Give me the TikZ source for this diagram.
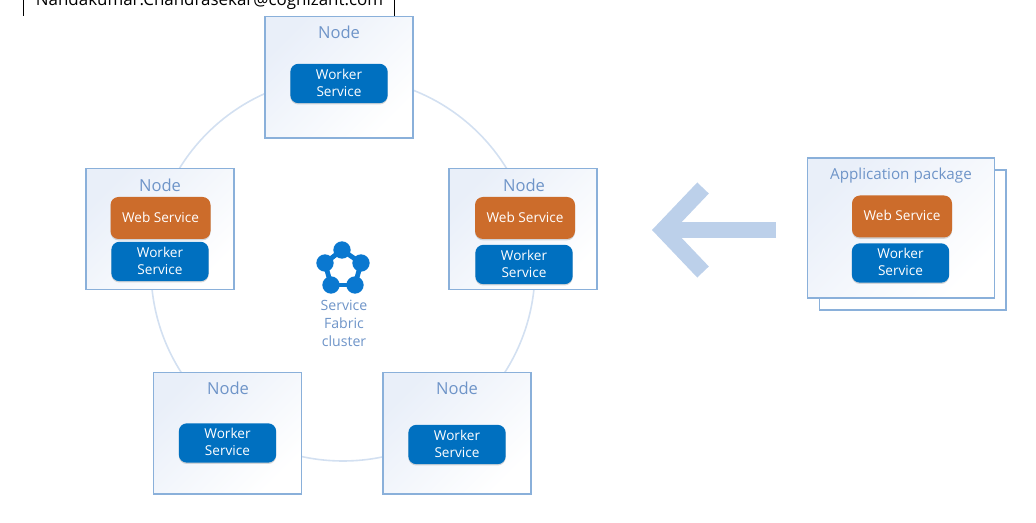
\documentclass[tikz,border=0pt]{standalone}
\usepackage{fontspec}
\setmainfont{Open Sans}
\usepackage{tikz}
\usetikzlibrary{arrows.meta,shadows,positioning}
\definecolor{framecol}{HTML}{8AB0DA}
\definecolor{labelcol}{HTML}{6E94C8}
\definecolor{ringcol}{HTML}{D3E0F1}
\definecolor{workercol}{HTML}{0070C0}
\definecolor{webcol}{HTML}{CC6C2B}
\definecolor{arrowcol}{HTML}{BCD0EA}
\definecolor{iconcol}{HTML}{0A78D0}
\definecolor{shadecol}{HTML}{E9EFF9}
\tikzset{
    frame/.style={draw=framecol, line width=1pt, minimum width=111pt, minimum height=91pt, inner sep=0pt,
        top color=shadecol, bottom color=white, shading angle=45},
    nodelabel/.style={text=labelcol, font=\fontsize{12.4}{14}\selectfont},
    service/.style={rounded corners=6pt, inner sep=0pt, align=center, text=white, text depth=1pt,
        font=\fontsize{10.2}{12.75}\selectfont,
        drop shadow={shadow xshift=0pt, shadow yshift=-1pt, opacity=0.3}},
    worker/.style={service, fill=workercol, minimum width=73pt, minimum height=29.5pt},
    web/.style={service, fill=webcol, minimum width=75pt, minimum height=31.5pt},
    dot/.style={circle, fill=iconcol, minimum size=13pt, inner sep=0pt, outer sep=0pt},
    iconline/.style={iconcol, line width=3.6pt, shorten >=-2pt, shorten <=-2pt}
}
\begin{document}
\begin{tikzpicture}[x=0.75pt, y=-0.75pt]
    \useasboundingbox (0, 0) rectangle (1036, 523);

    % Cut off mail box at the top edge
    \begin{scope}
        \clip (0, 0) rectangle (1036, 523);
        \node[font=\fontsize{12.7}{15}\selectfont, anchor=base] (mail) at (209.5, 6) {Nandakumar.Chandrasekar@cognizant.com};
    \end{scope}
    \coordinate (mailtl) at (23, 0);
    \coordinate (mailbl) at (23, 16);
    \coordinate (mailtr) at (394, 0);
    \coordinate (mailbr) at (394, 16);
    \draw[black, line width=0.75pt] (mailtl) -- (mailbl);
    \draw[black, line width=0.75pt] (mailtr) -- (mailbr);

    % Cluster ring
    \node[circle, draw=ringcol, line width=1.2pt, minimum size=288pt, inner sep=0pt] (ring) at (343, 269) {};

    % Nodes of the cluster
    \node[frame] (topnode) at (339, 77.5) {};
    \node[nodelabel] (toplabel) at (339, 32) {Node};
    \node[worker] (topworker) at (339, 83.5) {Worker\\Service};

    \node[frame] (leftnode) at (160, 229) {};
    \node[nodelabel] (leftlabel) at (160, 185) {Node};
    \node[web] (leftweb) at (160.5, 218) {Web Service};
    \node[worker] (leftworker) at (160, 261.5) {Worker\\Service};

    \node[frame] (rightnode) at (523, 229) {};
    \node[nodelabel] (rightlabel) at (524, 185) {Node};
    \node[web] (rightweb) at (525, 218) {Web Service};
    \node[worker] (rightworker) at (524, 264.5) {Worker\\Service};

    \node[frame] (lownodea) at (227.5, 433.5) {};
    \node[nodelabel] (lowlabela) at (228, 388) {Node};
    \node[worker] (lowworkera) at (227.5, 443) {Worker\\Service};

    \node[frame] (lownodeb) at (457, 433.5) {};
    \node[nodelabel] (lowlabelb) at (457, 388) {Node};
    \node[worker] (lowworkerb) at (457, 444.5) {Worker\\Service};

    % Service Fabric icon
    \node[dot] (icona) at (342, 250) {};
    \node[dot] (iconb) at (361, 263) {};
    \node[dot] (iconc) at (355, 285) {};
    \node[dot] (icond) at (331, 285) {};
    \node[dot] (icone) at (325, 263) {};
    \draw[iconline] (icona) -- (iconb);
    \draw[iconline] (iconb) -- (iconc);
    \draw[iconline] (iconc) -- (icond);
    \draw[iconline] (icond) -- (icone);
    \draw[iconline] (icone) -- (icona);
    \node[nodelabel, align=center, font=\fontsize{10.6}{13.5}\selectfont] (clusterlabel) at (344, 323.5) {Service\\Fabric\\cluster};

    % Application package
    \node[draw=framecol, fill=white, line width=1pt, minimum width=140pt, minimum height=105pt] (pkgback) at (912.5, 240) {};
    \node[frame, minimum width=140pt, minimum height=105pt] (pkg) at (901, 228) {};
    \node[nodelabel, font=\fontsize{11.4}{13}\selectfont] (pkglabel) at (901, 175.5) {Application package};
    \node[web] (pkgweb) at (902, 216.5) {Web Service};
    \node[worker] (pkgworker) at (900.5, 263) {Worker\\Service};

    % Arrow from package to cluster
    \coordinate (arrowtail) at (776, 230);
    \coordinate (arrowtip) at (652, 230);
    \draw[-{Straight Barb[length=30pt, width=63pt]}, arrowcol, line width=12pt] (arrowtail) -- (arrowtip);
\end{tikzpicture}
\end{document}
